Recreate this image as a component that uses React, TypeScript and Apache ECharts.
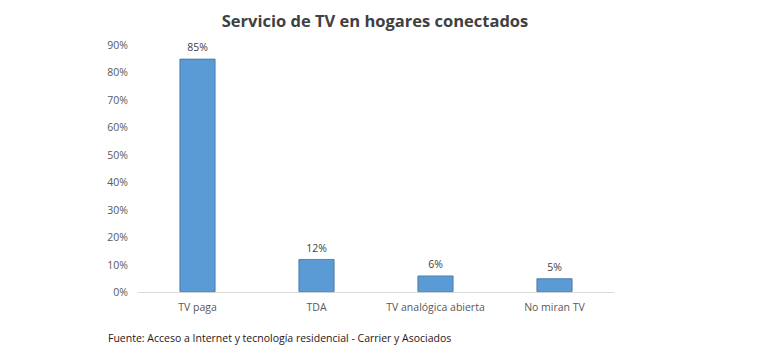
import React, { useEffect, useRef } from "react";
import * as echarts from "echarts";

const categories = ["TV paga", "TDA", "TV analógica abierta", "No miran TV"];
const values = [85, 12, 6, 5];
const yTicks = [0, 10, 20, 30, 40, 50, 60, 70, 80, 90];
const title = "Servicio de TV en hogares conectados";
const footer = "Fuente: Acceso a Internet y tecnología residencial - Carrier y Asociados";

const FONT = "'Open Sans', 'Noto Sans', sans-serif";

export default function App() {
  const ref = useRef<HTMLDivElement>(null);
  useEffect(() => {
    if (!ref.current) return;
    const chart = echarts.init(ref.current, null, { renderer: "svg" });
    chart.setOption({
      animation: false,
      backgroundColor: "#ffffff",
      title: {
        text: title,
        left: 370,
        textAlign: "center",
        top: 7,
        textStyle: { fontFamily: FONT, fontSize: 16.5, fontWeight: "bold", color: "#404040" },
      },
      graphic: [
        {
          type: "text",
          left: 108,
          top: 332,
          style: { text: footer, fontFamily: FONT, fontSize: 10.5, fill: "#2a1414" },
        },
      ],
      grid: { left: 138, right: 156, top: 45, bottom: 63 },
      xAxis: {
        type: "category",
        data: categories,
        axisLine: { lineStyle: { color: "#d9d9d9" } },
        axisTick: { show: false },
        axisLabel: { interval: 0, fontFamily: FONT, fontSize: 10.5, color: "#595959", margin: 9 },
      },
      yAxis: {
        type: "value",
        min: yTicks[0],
        max: yTicks[yTicks.length - 1],
        interval: 10,
        splitLine: { show: false },
        axisLine: { show: false },
        axisTick: { show: false },
        axisLabel: {
          fontFamily: FONT,
          fontSize: 10.5,
          color: "#595959",
          margin: 10,
          formatter: (v: number) => v + "%",
        },
      },
      series: [
        {
          type: "bar",
          data: values,
          barWidth: 36,
          itemStyle: { color: "#5b9bd5", borderColor: "#41719c", borderWidth: 0.8 },
          label: {
            show: true,
            position: "top",
            distance: 6,
            fontFamily: FONT,
            fontSize: 10.5,
            color: "#404040",
            formatter: (p: any) => p.value + "%",
          },
        },
      ],
    });
    return () => chart.dispose();
  }, []);
  return <div ref={ref} style={{ width: 770, height: 355, position: "absolute", left: 0, top: 0 }} />;
}
